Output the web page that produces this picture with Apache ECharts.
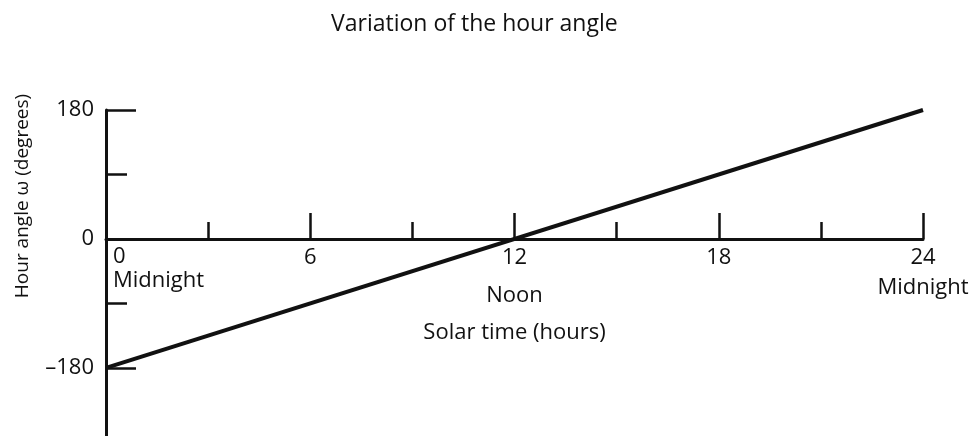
<!DOCTYPE html>
<html>
<head>
<meta charset="utf-8">
<script src="https://cdn.jsdelivr.net/npm/echarts@6/dist/echarts.min.js"></script>
<style>
  html, body { margin: 0; padding: 0; background: #fff; }
  #chart { width: 974px; height: 436px; }
</style>
</head>
<body>
<div id="chart"></div>
<script>
// Hour angle as a function of solar time: a straight line from -180° at midnight to +180° at the next midnight
const solarHours = [0, 24];
const hourAngles = [-180, 180];

// Tick values and their captions
const hourTicks = [0, 6, 12, 18, 24];
const hourCaptions = { 0: 'Midnight', 12: 'Noon', 24: 'Midnight' };
const angleLabels = [-180, 0, 180];
const angleMajorTicks = [-180, 180];
const angleMinorTicks = [-90, 90];

const FONT = '"Open Sans", "DejaVu Sans", sans-serif';
const INK = '#111';

const chart = echarts.init(document.getElementById('chart'), null, { renderer: 'canvas' });

// Vertical extent of the plot; the time axis sits on the 0° level
const yRange = { min: -275, max: 180 };
const plotTop = 110;
const plotHeight = 326;
const zeroLevel = plotHeight * yRange.max / (yRange.max - yRange.min);

chart.setOption({
  backgroundColor: '#fff',
  animation: false,
  title: {
    text: 'Variation of the hour angle',
    left: 331,
    top: 13,
    padding: 0,
    textStyle: { fontFamily: FONT, fontSize: 23, fontWeight: 'normal', color: INK }
  },
  grid: [
    // full plot area: angle axis and the line
    { left: 106, right: 51, top: plotTop, height: plotHeight, containLabel: false, outerBoundsMode: 'none' },
    // upper half, whose bottom edge is the 0° level: carries the time axis
    { left: 106, right: 51, top: plotTop, height: zeroLevel, containLabel: false, outerBoundsMode: 'none' }
  ],
  xAxis: [
    {
      gridIndex: 0,
      type: 'value',
      min: 0,
      max: 24,
      show: false
    },
    {
      gridIndex: 1,
      type: 'value',
      min: 0,
      max: 24,
      interval: 6,
      position: 'bottom',
      name: 'Solar time (hours)',
      nameLocation: 'middle',
      nameGap: 83,
      nameTextStyle: { fontFamily: FONT, fontSize: 22, color: INK },
      axisLine: { onZero: false, lineStyle: { color: INK, width: 3 } },
      axisTick: { show: true, inside: true, length: 26, lineStyle: { color: INK, width: 2.5 } },
      minorTick: { show: true, splitNumber: 2, length: 17, lineStyle: { color: INK, width: 2.5 } },
      splitLine: { show: false },
      axisLabel: {
        show: true,
        margin: 6,
        showMinLabel: true,
        showMaxLabel: true,
        alignMinLabel: 'left',
        alignMaxLabel: 'center',
        formatter: function (v) {
          if (hourTicks.indexOf(v) < 0) return '';
          if (v === 0) return '{z|0}\n{zc|' + hourCaptions[0] + '}';
          if (v === 12) return '{n|12}\n{noon|' + hourCaptions[12] + '}';
          if (v === 24) return '{n|24}\n{end|' + hourCaptions[24] + '}';
          return '{n|' + v + '}';
        },
        rich: {
          z: { fontFamily: FONT, fontSize: 22, color: INK, lineHeight: 24, padding: [0, 0, 0, 7] },
          zc: { fontFamily: FONT, fontSize: 22, color: INK, lineHeight: 24, padding: [0, 0, 0, 7] },
          n: { fontFamily: FONT, fontSize: 22, color: INK, lineHeight: 26 },
          noon: { fontFamily: FONT, fontSize: 22, color: INK, lineHeight: 50 },
          end: { fontFamily: FONT, fontSize: 22, color: INK, lineHeight: 34 }
        }
      }
    }
  ],
  yAxis: [
    {
      gridIndex: 0,
      type: 'value',
      min: yRange.min,
      max: yRange.max,
      position: 'left',
      name: 'Hour angle \u03c9 (degrees)',
      nameLocation: 'middle',
      nameRotate: 90,
      nameGap: 74,
      nameTextStyle: { fontFamily: FONT, fontSize: 19, color: INK, padding: [0, 0, 0, 154] },
      axisLine: { show: true, onZero: false, lineStyle: { color: INK, width: 3 } },
      axisTick: { show: true, inside: true, length: 30, customValues: angleMajorTicks, lineStyle: { color: INK, width: 2.5 } },
      axisLabel: {
        show: true,
        margin: 12,
        customValues: angleLabels,
        fontFamily: FONT,
        fontSize: 22,
        color: INK,
        formatter: function (v) { return v < 0 ? '\u2013' + Math.abs(v) : String(v); }
      },
      splitLine: { show: false }
    },
    {
      // same edge, shorter ticks at ±90°
      gridIndex: 0,
      type: 'value',
      min: yRange.min,
      max: yRange.max,
      position: 'left',
      axisLine: { show: false, onZero: false },
      axisTick: { show: true, inside: true, length: 21, customValues: angleMinorTicks, lineStyle: { color: INK, width: 2.5 } },
      axisLabel: { show: false },
      splitLine: { show: false }
    },
    {
      gridIndex: 1,
      type: 'value',
      min: 0,
      max: yRange.max,
      show: false
    }
  ],
  series: [
    {
      type: 'line',
      xAxisIndex: 0,
      yAxisIndex: 0,
      data: solarHours.map((h, i) => [h, hourAngles[i]]),
      showSymbol: false,
      symbol: 'none',
      lineStyle: { color: INK, width: 4 },
      silent: true,
      z: 3
    }
  ]
});
</script>
</body>
</html>
